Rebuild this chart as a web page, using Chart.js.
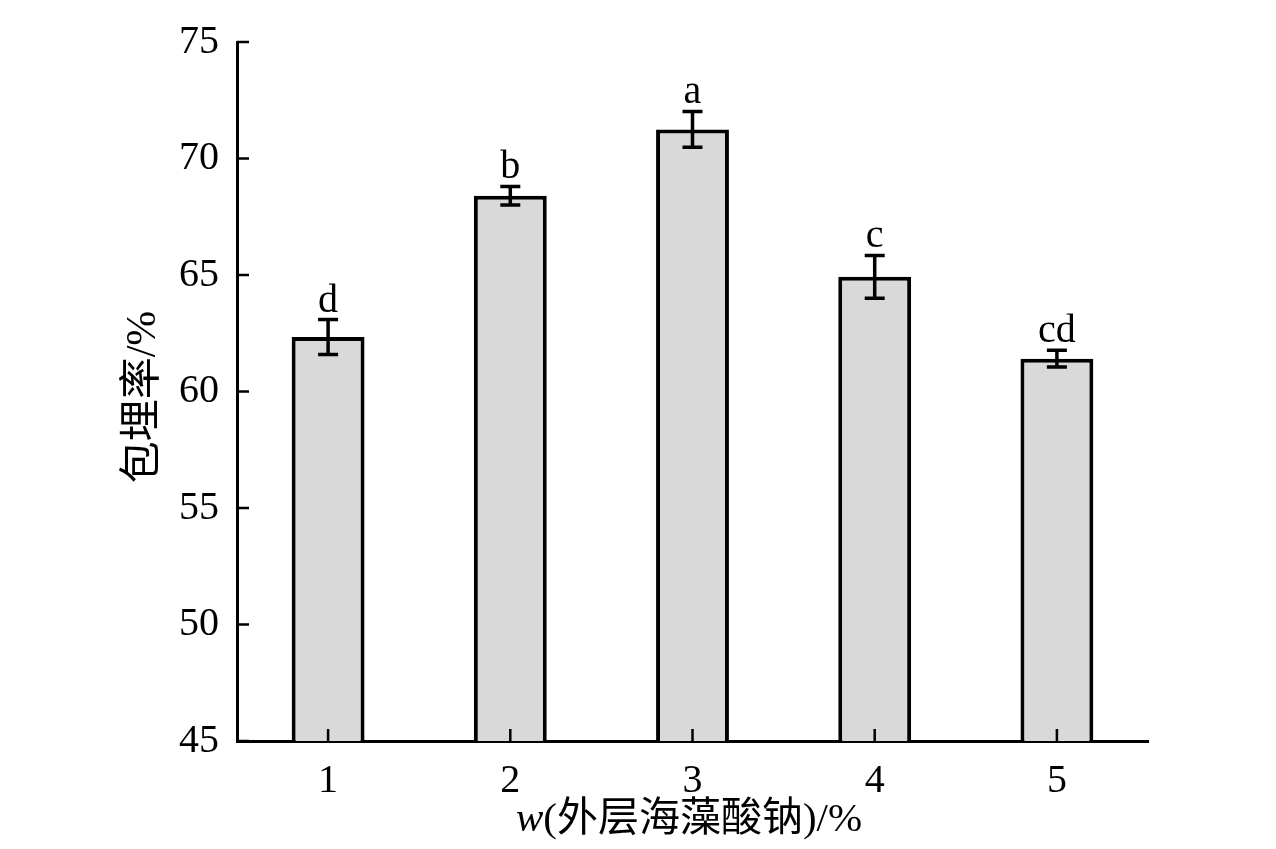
<!DOCTYPE html>
<html>
<head>
<meta charset="utf-8">
<script src="https://cdn.jsdelivr.net/npm/chart.js@4.4.0/dist/chart.umd.min.js"></script>
<style>
    html, body { margin: 0; padding: 0; background: #fff; }
    #wrap { width: 1276px; height: 849px; }
</style>
</head>
<body>
<div id="wrap"><canvas id="chart" width="1276" height="849"></canvas></div>
<script>
// Data
const categories = ['1', '2', '3', '4', '5'];
const rates = [62.34, 68.40, 71.25, 64.92, 61.41];
const errors = [0.75, 0.40, 0.77, 0.92, 0.36];
const letters = ['d', 'b', 'a', 'c', 'cd'];
const yTicks = [45, 50, 55, 60, 65, 70, 75];

const xTitle = 'w(外层海藻酸钠)/%';
const yTitle = '包埋率/%';

const FONT = '"Liberation Serif", "Noto Sans CJK SC", serif';

// Error bars, significance letters, inward ticks and axis titles
const extras = {
    id: 'extras',
    afterDatasetsDraw(chart) {
        const ctx = chart.ctx;
        const x = chart.scales.x;
        const y = chart.scales.y;
        ctx.save();
        ctx.strokeStyle = '#000';
        ctx.lineWidth = 3.5;
        ctx.fillStyle = '#000';
        ctx.font = '40px ' + FONT;
        ctx.textAlign = 'center';
        ctx.textBaseline = 'alphabetic';
        rates.forEach((v, i) => {
            const cx = x.getPixelForValue(i);
            const top = y.getPixelForValue(v + errors[i]);
            const bot = y.getPixelForValue(v - errors[i]);
            ctx.beginPath();
            ctx.moveTo(cx, top);
            ctx.lineTo(cx, bot);
            ctx.moveTo(cx - 10, top);
            ctx.lineTo(cx + 10, top);
            ctx.moveTo(cx - 10, bot);
            ctx.lineTo(cx + 10, bot);
            ctx.stroke();
            ctx.fillText(letters[i], cx, top - 8);
        });
        ctx.restore();
    },
    afterDraw(chart) {
        const ctx = chart.ctx;
        const x = chart.scales.x;
        const y = chart.scales.y;
        const area = chart.chartArea;
        ctx.save();
        ctx.strokeStyle = '#000';
        ctx.lineWidth = 2.5;
        ctx.beginPath();
        yTicks.forEach(t => {
            const py = y.getPixelForValue(t);
            ctx.moveTo(area.left, py);
            ctx.lineTo(area.left + 12, py);
        });
        categories.forEach((c, i) => {
            const px = x.getPixelForValue(i);
            ctx.moveTo(px, area.bottom);
            ctx.lineTo(px, area.bottom - 12);
        });
        ctx.stroke();

        ctx.fillStyle = '#000';
        ctx.textBaseline = 'middle';
        // x title, with italic w
        ctx.font = 'italic 41px ' + FONT;
        const wWidth = ctx.measureText('w').width;
        ctx.font = '41px ' + FONT;
        const restWidth = ctx.measureText(xTitle.slice(1)).width;
        const sx = 689 - (wWidth + restWidth) / 2;
        ctx.textAlign = 'left';
        ctx.font = 'italic 41px ' + FONT;
        ctx.fillText('w', sx, 820);
        ctx.font = '41px ' + FONT;
        ctx.fillText(xTitle.slice(1), sx + wWidth, 820);

        // y title
        ctx.translate(144, 397);
        ctx.rotate(-Math.PI / 2);
        ctx.textAlign = 'center';
        ctx.font = '42px ' + FONT;
        ctx.fillText(yTitle, 0, 0);
        ctx.restore();
    }
};

new Chart(document.getElementById('chart'), {
    type: 'bar',
    data: {
        labels: categories,
        datasets: [{
            data: rates,
            backgroundColor: '#d9d9d9',
            borderColor: '#000',
            borderWidth: 4,
            barPercentage: 0.4,
            categoryPercentage: 1.0
        }]
    },
    options: {
        responsive: false,
        animation: false,
        layout: { padding: { left: 0, right: 128, top: 42, bottom: 0 } },
        plugins: {
            legend: { display: false },
            tooltip: { enabled: false }
        },
        scales: {
            x: {
                grid: { display: false },
                border: { display: true, color: '#000', width: 3 },
                ticks: {
                    color: '#000',
                    font: { family: FONT, size: 40 },
                    padding: 8
                },
                afterFit(scale) { scale.height = 108; }
            },
            y: {
                min: 45,
                max: 75,
                grid: { display: false },
                border: { display: true, color: '#000', width: 3 },
                afterBuildTicks(scale) {
                    scale.ticks = yTicks.map(v => ({ value: v }));
                },
                ticks: {
                    color: '#000',
                    font: { family: FONT, size: 40 },
                    padding: 10
                },
                afterFit(scale) { scale.width = 237; }
            }
        }
    },
    plugins: [extras]
});
</script>
</body>
</html>
